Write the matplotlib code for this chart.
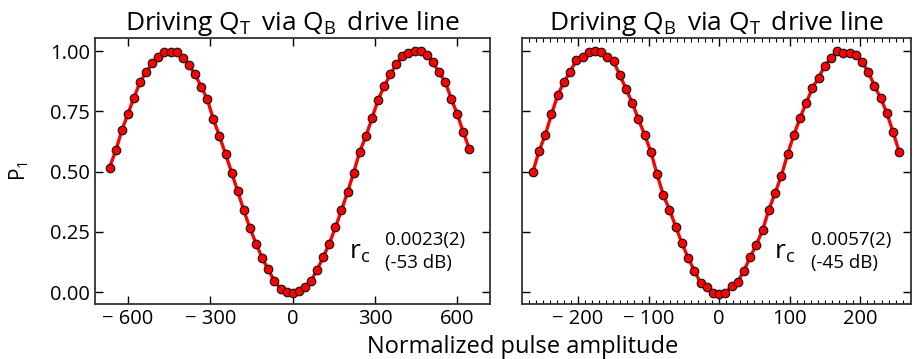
import numpy as np
import matplotlib
matplotlib.use("Agg")
import matplotlib.pyplot as plt
from matplotlib.ticker import MultipleLocator, FuncFormatter

plt.rcParams['font.family'] = ['Open Sans', 'DejaVu Sans']
plt.rcParams['mathtext.fontset'] = 'custom'
plt.rcParams['mathtext.rm'] = 'Open Sans'
plt.rcParams['mathtext.it'] = 'Open Sans'
plt.rcParams['mathtext.default'] = 'regular'

# left panel: driving Q_T via Q_B drive line
amp_top = [-667, -644, -622, -600, -578, -556, -533, -511, -489, -467,
           -444, -422, -400, -378, -356, -333, -311, -289, -267, -244,
           -222, -200, -178, -156, -133, -111, -89, -67, -44, -22,
           0, 22, 44, 67, 89, 111, 133, 156, 178, 200,
           222, 244, 267, 289, 311, 333, 356, 378, 400, 422,
           444, 467, 489, 511, 533, 556, 578, 600, 622, 644]
p_top = [0.517, 0.588, 0.672, 0.740, 0.807, 0.871, 0.915, 0.950, 0.976, 0.996,
         0.999, 0.997, 0.971, 0.942, 0.906, 0.853, 0.801, 0.719, 0.649, 0.572,
         0.496, 0.418, 0.340, 0.267, 0.201, 0.142, 0.094, 0.047, 0.014, 0.000,
         -0.003, 0.003, 0.019, 0.047, 0.092, 0.144, 0.199, 0.269, 0.340, 0.415,
         0.494, 0.582, 0.647, 0.722, 0.797, 0.854, 0.904, 0.947, 0.979, 0.993,
         1.001, 1.000, 0.986, 0.954, 0.914, 0.872, 0.803, 0.738, 0.663, 0.593]

# right panel: driving Q_B via Q_T drive line
amp_bot = [-264.0, -255.2, -246.4, -237.6, -228.8, -220.0, -211.2, -202.4, -193.6, -184.8,
           -176.0, -167.2, -158.4, -149.6, -140.8, -132.0, -123.2, -114.4, -105.6, -96.8,
           -88.0, -79.2, -70.4, -61.6, -52.8, -44.0, -35.2, -26.4, -17.6, -8.8,
           0.0, 8.8, 17.6, 26.4, 35.2, 44.0, 52.8, 61.6, 70.4, 79.2,
           88.0, 96.8, 105.6, 114.4, 123.2, 132.0, 140.8, 149.6, 158.4, 167.2,
           176.0, 184.8, 193.6, 202.4, 211.2, 220.0, 228.8, 237.6, 246.4, 255.2]
p_bot = [0.499, 0.585, 0.653, 0.738, 0.817, 0.872, 0.914, 0.964, 0.976, 0.996,
         1.001, 0.996, 0.978, 0.958, 0.901, 0.844, 0.786, 0.718, 0.653, 0.583,
         0.489, 0.403, 0.342, 0.272, 0.203, 0.142, 0.089, 0.038, 0.021, -0.006,
         -0.010, -0.004, 0.024, 0.043, 0.089, 0.146, 0.197, 0.258, 0.342, 0.411,
         0.482, 0.572, 0.651, 0.722, 0.785, 0.847, 0.890, 0.940, 0.972, 1.001,
         0.992, 0.993, 0.985, 0.954, 0.915, 0.856, 0.806, 0.743, 0.664, 0.581]

titles = [r'Driving $Q_T\,$ via $Q_B\,$ drive line', r'Driving $Q_B\,$ via $Q_T\,$ drive line']
rc_vals = ['0.0023(2)\n(-53 dB)', '0.0057(2)\n(-45 dB)']
yticks = [0.0, 0.25, 0.5, 0.75, 1.0]


def minus_fmt(v, pos):
    if v < 0:
        return '\u2212 %g' % abs(v)
    return '%g' % v


fig = plt.figure(figsize=(9.13, 3.59), dpi=100)
ax1 = fig.add_axes([0.104, 0.153, 0.433, 0.741])
ax2 = fig.add_axes([0.572, 0.153, 0.426, 0.741])

for ax, x, y in [(ax1, amp_top, p_top), (ax2, amp_bot, p_bot)]:
    ax.plot(x, y, '-', color='red', lw=2.4, zorder=2)
    ax.plot(x, y, 'o', mfc='red', mec='#111111', mew=0.8, ms=6.2, zorder=3)
    ax.set_ylim(-0.05, 1.055)
    ax.set_yticks(yticks)
    ax.tick_params(which='both', direction='in', top=True, right=True, labelsize=14.5)
    ax.tick_params(which='major', length=6, width=1)
    ax.tick_params(which='minor', length=3, width=0.8)
    ax.xaxis.set_major_formatter(FuncFormatter(minus_fmt))
    for s in ax.spines.values():
        s.set_linewidth(1.3)
        s.set_color('#333333')

ax1.set_xlim(-720, 720)
ax1.set_xticks([-600, -300, 0, 300, 600])
ax1.yaxis.set_major_formatter(FuncFormatter(lambda v, p: '%.2f' % v))
ax1.set_ylabel(r'$P_1$', fontsize=15, labelpad=14)

ax2.set_xlim(-279, 272)
ax2.set_xticks([-200, -100, 0, 100, 200])
ax2.xaxis.set_minor_locator(MultipleLocator(10))
ax2.set_yticklabels([])

ax1.set_title(titles[0], fontsize=19, pad=5)
ax2.set_title(titles[1], fontsize=19, pad=5)

ax1.text(205, 0.165, r'$r_c$', fontsize=19, va='center')
ax1.text(338, 0.17, rc_vals[0], fontsize=13.5, va='center', linespacing=1.35)
ax2.text(77, 0.165, r'$r_c$', fontsize=19, va='center')
ax2.text(130, 0.17, rc_vals[1], fontsize=13.5, va='center', linespacing=1.35)

fig.text(0.572, 0.033, 'Normalized pulse amplitude', fontsize=17, ha='center', va='center')

fig.savefig('out.png', dpi=100)
